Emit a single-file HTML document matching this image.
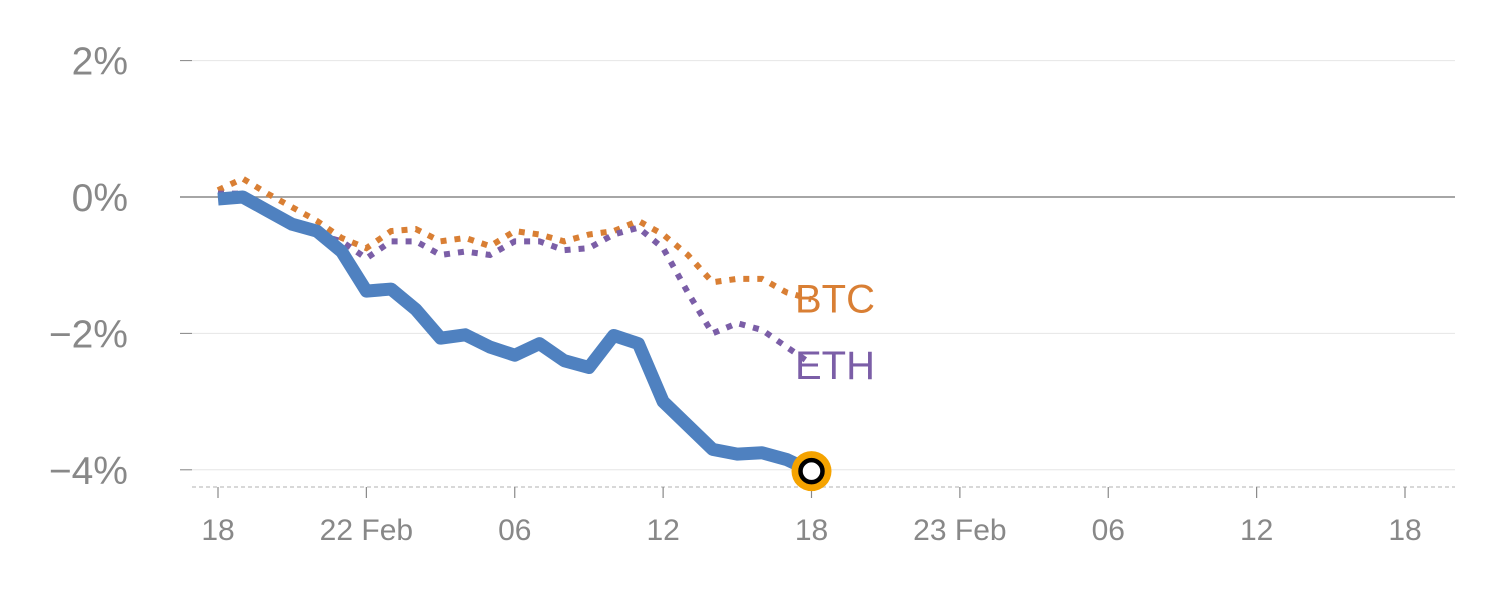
<!DOCTYPE html>
<html><head><meta charset="utf-8"><style>
html,body{margin:0;padding:0;background:#fff;}
svg{display:block;font-family:"Liberation Sans",Arial,sans-serif;}
</style></head><body>
<svg id="chart" width="1500" height="600" viewBox="0 0 1500 600"></svg>
<script>
const yTicks=[2,0,-2,-4];
const yTickLabels=["2%","0%","\u22122%","\u22124%"];
const xTickIdx=[0,6,12,18,24,30,36,42,48];
const xTickLabels=["18","22 Feb","06","12","18","23 Feb","06","12","18"];
const mainSeries=[-0.03,0.0,-0.2,-0.4,-0.5,-0.8,-1.38,-1.35,-1.65,-2.07,-2.02,-2.2,-2.32,-2.15,-2.4,-2.5,-2.03,-2.15,-3.0,-3.35,-3.7,-3.77,-3.75,-3.85,-4.02];
const btcSeries=[0.1,0.27,0.05,-0.15,-0.35,-0.6,-0.75,-0.5,-0.47,-0.65,-0.6,-0.72,-0.5,-0.55,-0.65,-0.55,-0.5,-0.35,-0.55,-0.85,-1.25,-1.2,-1.2,-1.4,-1.5];
const ethSeries=[0.05,0.05,-0.15,-0.4,-0.55,-0.65,-0.9,-0.65,-0.65,-0.85,-0.8,-0.85,-0.65,-0.65,-0.78,-0.75,-0.55,-0.45,-0.75,-1.4,-2.0,-1.85,-1.95,-2.2,-2.45];

const svg=document.getElementById('chart');
const NS='http://www.w3.org/2000/svg';
const x=i=>218+i*(1405-218)/48;
const y=v=>197-v*68.2;
function mk(tag,attrs,parent){const e=document.createElementNS(NS,tag);for(const k in attrs)e.setAttribute(k,attrs[k]);(parent||svg).appendChild(e);return e;}

yTicks.forEach((t,i)=>{
  const g=mk('line',{x1:180,x2:1455,y1:y(t),y2:y(t),stroke:t===0?'#888':'#e6e6e6','stroke-width':t===0?1.5:1});
  
  
  const tk=mk('line',{x1:180,x2:192,y1:y(t),y2:y(t),stroke:'#888','stroke-width':1});
  
  
  const tx=mk('text',{x:128,y:y(t)+14,'text-anchor':'end','font-size':39,fill:'#888'});
  tx.textContent=yTickLabels[i];
  
  
});
const base=mk('line',{x1:192,x2:1455,y1:487,y2:487,stroke:'#ccc','stroke-width':1.5,'stroke-dasharray':'4 3'});


xTickIdx.forEach((ix,i)=>{
  const tk=mk('line',{x1:x(ix),x2:x(ix),y1:487,y2:498,stroke:'#888','stroke-width':1.2});
  
  
  const tx=mk('text',{x:x(ix),y:540,'text-anchor':'middle','font-size':30,fill:'#888'});
  tx.textContent=xTickLabels[i];
  
  
});
function pts(s){return s.map((v,i)=>x(i)+','+y(v)).join(' ');}
const btc=mk('polyline',{points:pts(btcSeries),fill:'none',stroke:'#d97f34','stroke-width':6,'stroke-dasharray':'6 8'});


const eth=mk('polyline',{points:pts(ethSeries),fill:'none',stroke:'#7b5ea7','stroke-width':6,'stroke-dasharray':'6 8'});


const main=mk('polyline',{points:pts(mainSeries),fill:'none',stroke:'#4f81c0','stroke-width':13,'stroke-linejoin':'round'});


const bl=mk('text',{x:795,y:y(btcSeries[btcSeries.length-1])+13,'font-size':40,fill:'#d97f34'});
bl.textContent='BTC';


const el=mk('text',{x:795,y:y(ethSeries[ethSeries.length-1])+15,'font-size':40,fill:'#7b5ea7'});
el.textContent='ETH';


const last=mainSeries.length-1;
const ring=mk('circle',{cx:x(last),cy:y(mainSeries[last]),r:20,fill:'#f5a300'});


const dot=mk('circle',{cx:x(last),cy:y(mainSeries[last]),r:11,fill:'#fff',stroke:'#000','stroke-width':4.5});


</script>
</body></html>
